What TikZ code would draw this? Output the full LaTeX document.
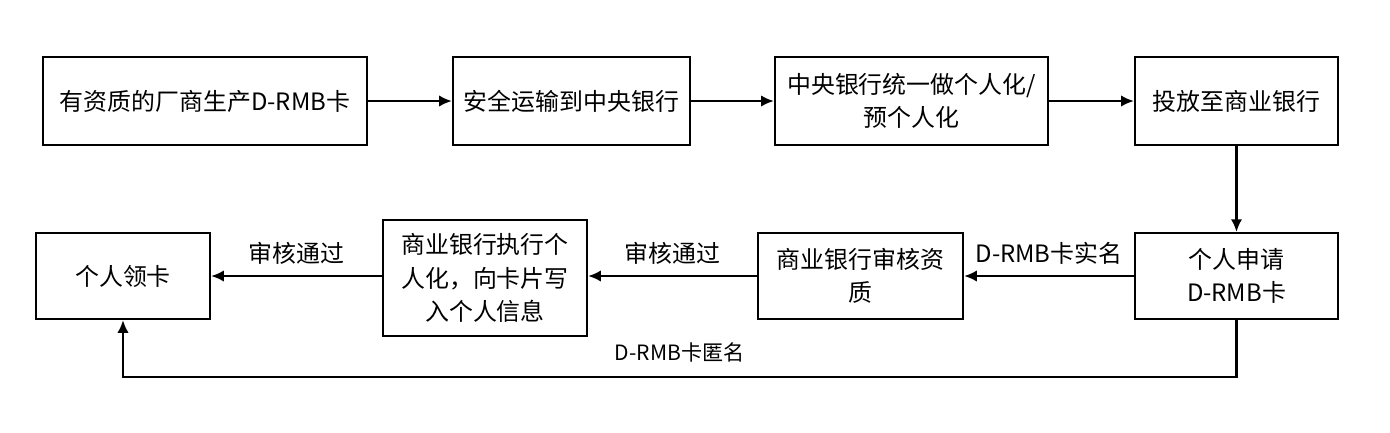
\documentclass[tikz,border=0pt]{standalone}
\usepackage{fontspec}
\newfontfamily\cjk{Noto Sans CJK SC}
\usetikzlibrary{arrows.meta}
\tikzset{
    stepbox/.style={draw=black, line width=0.6pt, align=center, inner sep=1pt,
        minimum height=0.88cm, font=\cjk\fontsize{6.8}{9.5}\selectfont},
    flow/.style={draw=black, line width=0.6pt, -{Latex[length=3.6pt,width=3.2pt]}},
    flowlabel/.style={font=\cjk\fontsize{6.8}{8}\selectfont, inner sep=1pt},
}

\begin{document}
\begin{tikzpicture}[x=0.01cm, y=-0.01cm]
\useasboundingbox (0,0) rectangle (1390,432);
	% first row
	\node[stepbox, minimum width=3.24cm] (make) at (205,101) {有资质的厂商生产D-RMB卡};
	\node[stepbox, minimum width=2.37cm] (ship) at (571.5,101) {安全运输到中央银行};
	\node[stepbox, minimum width=2.73cm] (central) at (911.5,101) {中央银行统一做个人化/\\预个人化};
	\node[stepbox, minimum width=2.03cm] (issue) at (1236.5,101) {投放至商业银行};
	% second row
	\node[stepbox, minimum width=2.03cm, minimum height=0.86cm] (apply) at (1236.5,276) {个人申请\\D-RMB卡};
	\node[stepbox, minimum width=2.05cm, minimum height=0.86cm] (check) at (860.5,276) {商业银行审核资\\质};
	\node[stepbox, minimum width=2.04cm, minimum height=1.16cm] (write) at (485,278) {商业银行执行个\\人化，向卡片写\\入个人信息};
	\node[stepbox, minimum width=1.74cm, minimum height=0.86cm] (collect) at (123,276) {个人领卡};
	\coordinate (loop) at (0,377);
	% connectors
	\draw[flow] (make) -- (ship);
	\draw[flow] (ship) -- (central);
	\draw[flow] (central) -- (issue);
	\draw[flow] (issue) -- (apply);
	\draw[flow] (apply.west) -- node[flowlabel, above=2pt] {D-RMB卡实名} (apply.west -| check.east);
	\draw[flow] (check.west) -- node[flowlabel, above=2pt] {审核通过} (check.west -| write.east);
	\draw[flow] (write.west |- check.west) -- node[flowlabel, above=2pt] {审核通过} (collect.east);
	\draw[flow] (apply.south) -- (apply.south |- loop) -- node[flowlabel, above=3pt, font=\cjk\fontsize{6}{7}\selectfont] {D-RMB卡匿名} (collect.south |- loop) -- (collect.south);
\end{tikzpicture}
\end{document}
